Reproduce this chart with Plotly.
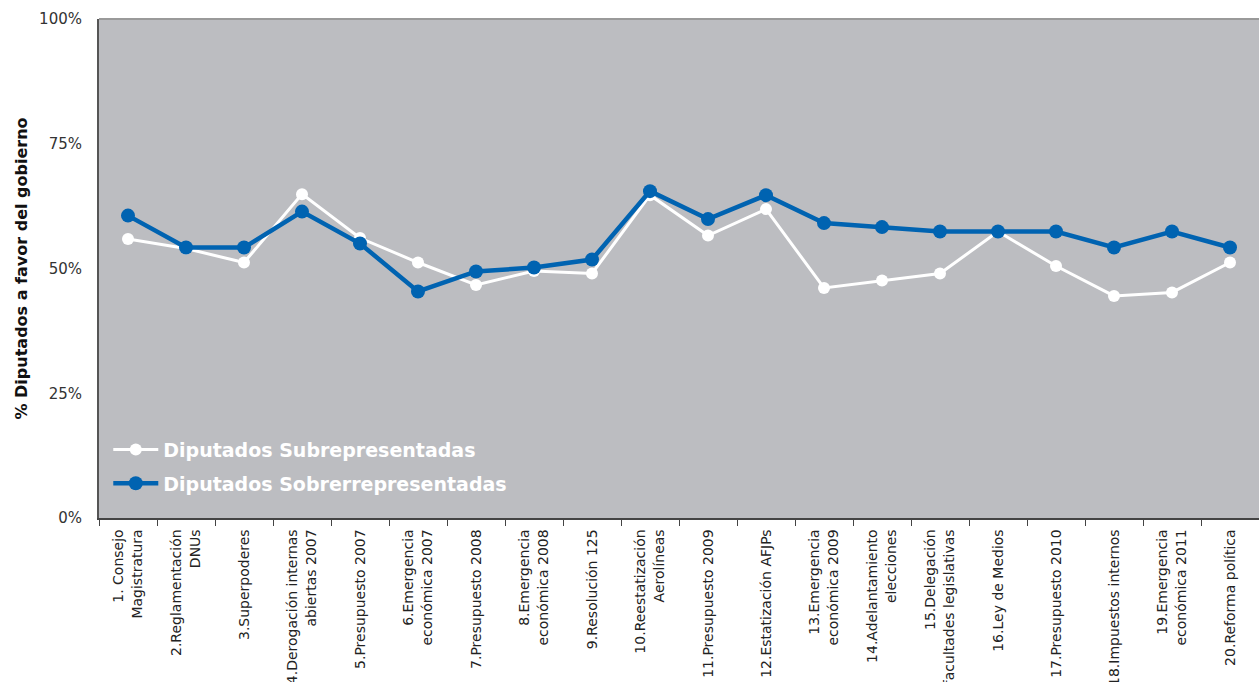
import plotly.graph_objects as go

# Votaciones (eje X) y porcentaje de diputados a favor del gobierno
votaciones = [
    "1. Consejo<br>Magistratura",
    "2.Reglamentación<br>DNUs",
    "3.Superpoderes",
    "4.Derogación internas<br>abiertas 2007",
    "5.Presupuesto 2007",
    "6.Emergencia<br>económica 2007",
    "7.Presupuesto 2008",
    "8.Emergencia<br>económica 2008",
    "9.Resolución 125",
    "10.Reestatización<br>Aerolíneas",
    "11.Presupuesto 2009",
    "12.Estatización AFJPs",
    "13.Emergencia<br>económica 2009",
    "14.Adelantamiento<br>elecciones",
    "15.Delegación<br>facultades legislativas",
    "16.Ley de Medios",
    "17.Presupuesto 2010",
    "18.Impuestos internos",
    "19.Emergencia<br>económica 2011",
    "20.Reforma política",
]

subrepresentadas = [55.9, 54.0, 51.2, 64.9, 56.1, 51.2, 46.7, 49.5, 49.0, 64.7,
                    56.6, 61.9, 46.1, 47.6, 49.0, 57.4, 50.5, 44.5, 45.2, 51.2]

sobrerrepresentadas = [60.6, 54.2, 54.2, 61.4, 55.0, 45.4, 49.4, 50.2, 51.8, 65.5,
                       59.9, 64.7, 59.1, 58.3, 57.4, 57.4, 57.4, 54.2, 57.4, 54.2]

y_ticks = [0, 25, 50, 75, 100]
y_tick_labels = ["0%", "25%", "50%", "75%", "100%"]

FONT = "DejaVu Sans"
BLUE = "#0063b1"

fig = go.Figure()

fig.add_trace(go.Scatter(
    x=votaciones, y=subrepresentadas,
    name="Diputados Subrepresentadas",
    mode="lines+markers",
    line=dict(color="white", width=3),
    marker=dict(color="white", size=12),
    legendgroup="sub",
))

fig.add_trace(go.Scatter(
    x=votaciones, y=sobrerrepresentadas,
    name="Diputados Sobrerrepresentadas",
    mode="lines+markers",
    line=dict(color=BLUE, width=4.5),
    marker=dict(color=BLUE, size=14),
    legendgroup="sobre",
))

fig.update_layout(
    width=1259, height=682,
    margin=dict(l=99, r=0, t=19, b=164, autoexpand=False),
    paper_bgcolor="white",
    plot_bgcolor="#bcbdc1",
    font=dict(family=FONT, color="#333333"),
    showlegend=True,
    legend=dict(
        x=0.008, y=0.175, xanchor="left", yanchor="top",
        bgcolor="rgba(0,0,0,0)",
        font=dict(family=FONT, size=19, color="white", weight="bold"),
        itemwidth=45,
        tracegroupgap=6,
        traceorder="grouped",
    ),
    xaxis=dict(
        type="category",
        range=[-0.5, len(votaciones) - 0.5],
        tickangle=-90,
        tickfont=dict(family=FONT, size=14, color="#222222"),
        ticks="outside", tickson="boundaries", ticklen=6, tickcolor="#444444",
        ticklabelstandoff=4,
        showline=True, linecolor="#444444", linewidth=1.5,
        showgrid=False, zeroline=False,
        automargin=False,
    ),
    yaxis=dict(
        range=[0, 100],
        tickvals=y_ticks, ticktext=y_tick_labels,
        tickfont=dict(family=FONT, size=15, color="#333333"),
        ticks="", ticklabelstandoff=12,
        showline=True, linecolor="#555555", linewidth=2,
        showgrid=False, zeroline=False,
        title=dict(text="% Diputados a favor del gobierno",
                   font=dict(family=FONT, size=16, color="#111111", weight="bold"),
                   standoff=8),
        automargin=False,
    ),
    shapes=[dict(type="line", xref="paper", yref="paper", x0=0, x1=1, y0=1, y1=1,
                 line=dict(color="#9a9a9a", width=2))],
)

fig.write_html("out.html")
